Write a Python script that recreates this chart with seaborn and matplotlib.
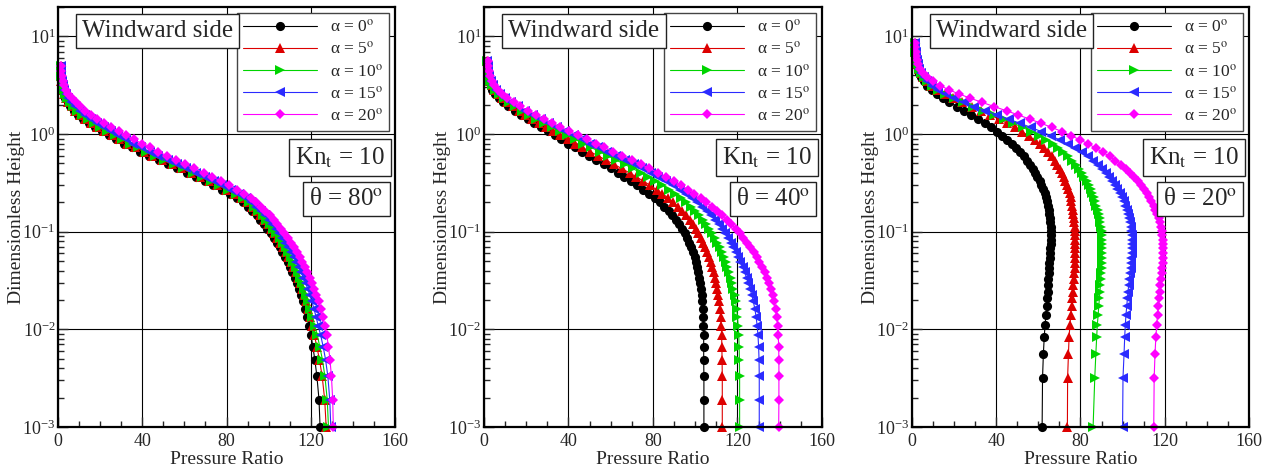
import matplotlib
matplotlib.use("Agg")
import matplotlib.pyplot as plt
import numpy as np
import pandas as pd
import seaborn as sns
from matplotlib.ticker import FixedLocator, MultipleLocator, LogLocator, NullFormatter

# ---------------------------------------------------------------- data
ALPHA_LABELS = ["α = 0$^{\\rm o}$", "α = 5$^{\\rm o}$", "α = 10$^{\\rm o}$",
                "α = 15$^{\\rm o}$", "α = 20$^{\\rm o}$"]
THETA_LABELS = ["θ = 80$^{\\rm o}$", "θ = 40$^{\\rm o}$", "θ = 20$^{\\rm o}$"]
KN_LABEL = "Kn$_{\\rm t}$ = 10"
SIDE_LABEL = "Windward side"

# dimensionless height of the sampling points (theta = 80 deg)
h_80 = [0.001, 0.0019, 0.0033, 0.0049, 0.0066, 0.0087, 0.0109, 0.0135, 0.0162, 0.0193,
        0.0224, 0.0258, 0.0296, 0.0337, 0.0383, 0.0433, 0.0488, 0.0549, 0.0616, 0.069,
        0.077, 0.086, 0.096, 0.107, 0.119, 0.132, 0.147, 0.163, 0.181, 0.20,
        0.22, 0.245, 0.27, 0.30, 0.33, 0.365, 0.40, 0.445, 0.49, 0.54,
        0.60, 0.66, 0.73, 0.80, 0.88, 0.97, 1.07, 1.18, 1.30, 1.43,
        1.58, 1.74, 1.92, 2.12, 2.34, 2.58, 2.85, 3.15, 3.5, 3.9, 4.4, 5.0]
p80_a0 = [124.4, 123.9, 122.9, 121.9, 121.0, 120.1, 119.2, 118.3, 117.4, 116.4,
          115.5, 114.5, 113.5, 112.4, 111.3, 110.2, 109.0, 107.8, 106.5, 105.2,
          103.8, 102.4, 100.9, 99.4, 97.8, 96.1, 94.3, 92.3, 90.1, 87.6,
          84.9, 81.4, 77.8, 73.6, 69.6, 65.3, 61.1, 56.4, 52.1, 47.7,
          43.1, 39.1, 35.0, 31.4, 27.7, 24.1, 20.7, 17.5, 14.6, 12.0,
          9.6, 7.6, 5.9, 4.5, 3.5, 2.7, 2.1, 1.7, 1.5, 1.3, 1.2, 1.2]
p80_a5 = [127.3, 126.6, 125.4, 124.1, 122.9, 121.7, 120.6, 119.6, 118.7, 117.8,
          116.9, 115.9, 114.9, 113.9, 112.8, 111.7, 110.6, 109.4, 108.2, 106.9,
          105.5, 104.1, 102.7, 101.2, 99.6, 97.9, 96.1, 94.1, 91.9, 89.5,
          86.8, 83.3, 79.7, 75.5, 71.5, 67.2, 63.0, 58.2, 53.9, 49.4,
          44.8, 40.7, 36.6, 32.9, 29.1, 25.5, 22.0, 18.7, 15.7, 12.9,
          10.4, 8.2, 6.4, 4.9, 3.8, 2.9, 2.3, 1.8, 1.6, 1.4, 1.3, 1.2]
p80_a10 = [128.4, 127.8, 126.7, 125.5, 124.3, 123.1, 121.8, 120.8, 119.8, 118.9,
           117.9, 117.0, 116.0, 114.9, 113.9, 112.8, 111.7, 110.5, 109.3, 108.0,
           106.6, 105.2, 103.7, 102.2, 100.6, 98.9, 97.1, 95.1, 92.9, 90.5,
           87.8, 84.3, 80.7, 76.5, 72.5, 68.2, 64.0, 59.3, 55.0, 50.5,
           45.9, 41.9, 37.8, 34.1, 30.4, 26.8, 23.3, 20.0, 16.9, 14.1,
           11.5, 9.2, 7.2, 5.5, 4.2, 3.2, 2.5, 2.0, 1.7, 1.5, 1.4, 1.3]
p80_a15 = [129.5, 129.0, 128.1, 127.0, 125.9, 124.7, 123.5, 122.5, 121.5, 120.5,
           119.6, 118.6, 117.6, 116.5, 115.4, 114.3, 113.1, 111.9, 110.6, 109.3,
           107.9, 106.5, 105.0, 103.4, 101.8, 100.1, 98.3, 96.3, 94.2, 91.8,
           89.1, 85.7, 82.1, 78.0, 74.0, 69.8, 65.6, 60.9, 56.6, 52.2,
           47.6, 43.6, 39.5, 35.8, 32.1, 28.5, 25.0, 21.6, 18.5, 15.5,
           12.8, 10.3, 8.1, 6.2, 4.7, 3.6, 2.8, 2.2, 1.8, 1.6, 1.4, 1.3]
p80_a20 = [130.7, 130.4, 129.8, 129.1, 128.4, 127.6, 126.6, 125.7, 124.7, 123.7,
           122.7, 121.7, 120.6, 119.5, 118.4, 117.2, 116.0, 114.7, 113.4, 112.0,
           110.5, 109.0, 107.4, 105.8, 104.1, 102.3, 100.4, 98.4, 96.3, 94.0,
           91.5, 88.3, 85.0, 81.1, 77.3, 73.2, 69.2, 64.6, 60.4, 56.1,
           51.6, 47.6, 43.5, 39.8, 36.0, 32.3, 28.7, 25.2, 21.9, 18.7,
           15.7, 13.0, 10.5, 8.3, 6.4, 4.9, 3.7, 2.8, 2.2, 1.8, 1.5, 1.4]

# theta = 40 deg
h_40 = [0.001, 0.0019, 0.0033, 0.0049, 0.0066, 0.0087, 0.0109, 0.0135, 0.0162, 0.0193,
        0.0224, 0.0258, 0.0296, 0.0337, 0.0383, 0.0433, 0.0488, 0.0549, 0.0616, 0.069,
        0.077, 0.086, 0.096, 0.107, 0.119, 0.132, 0.147, 0.163, 0.181, 0.20,
        0.22, 0.245, 0.27, 0.30, 0.33, 0.365, 0.40, 0.445, 0.49, 0.54,
        0.60, 0.66, 0.73, 0.80, 0.88, 0.97, 1.07, 1.18, 1.30, 1.43,
        1.58, 1.74, 1.92, 2.12, 2.34, 2.58, 2.85, 3.15, 3.5, 3.9, 4.4, 5.0, 5.6]
p40_a0 = [104.1, 104.1, 104.1, 104.0, 104.0, 104.0, 103.9, 103.8, 103.6, 103.4,
          103.1, 102.8, 102.4, 102.0, 101.5, 101.0, 100.4, 99.7, 98.9, 98.0,
          97.1, 96.1, 95.0, 93.8, 92.4, 90.9, 89.2, 87.4, 85.4, 83.2,
          80.9, 78.2, 75.5, 72.4, 69.5, 66.4, 63.4, 59.9, 56.6, 53.2,
          49.6, 46.3, 42.9, 39.8, 36.6, 33.4, 30.2, 27.0, 23.9, 20.8,
          17.6, 14.5, 11.6, 9.0, 6.9, 5.2, 4.0, 3.1, 2.5, 2.1, 1.8, 1.6, 1.5]
p40_a5 = [112.8, 112.8, 112.8, 112.7, 112.6, 112.5, 112.3, 112.0, 111.7, 111.3,
          110.9, 110.4, 109.9, 109.3, 108.7, 108.0, 107.3, 106.5, 105.6, 104.7,
          103.7, 102.6, 101.5, 100.2, 98.8, 97.3, 95.6, 93.8, 91.8, 89.6,
          87.3, 84.5, 81.7, 78.5, 75.4, 72.1, 68.9, 65.1, 61.5, 57.8,
          53.9, 50.3, 46.6, 43.2, 39.7, 36.2, 32.8, 29.4, 26.0, 22.7,
          19.4, 16.4, 13.5, 10.9, 8.5, 6.5, 4.9, 3.7, 2.8, 2.3, 1.9, 1.7, 1.6]
p40_a10 = [121.0, 121.0, 121.0, 120.9, 120.8, 120.6, 120.3, 120.0, 119.6, 119.1,
           118.6, 118.0, 117.4, 116.7, 116.0, 115.2, 114.4, 113.5, 112.5, 111.5,
           110.4, 109.3, 108.1, 106.7, 105.2, 103.6, 101.8, 99.9, 97.8, 95.6,
           93.3, 90.4, 87.6, 84.3, 81.1, 77.6, 74.3, 70.3, 66.6, 62.7,
           58.5, 54.7, 50.7, 47.1, 43.3, 39.5, 35.8, 32.1, 28.4, 24.8,
           21.3, 18.0, 14.8, 11.9, 9.3, 7.1, 5.3, 4.0, 3.0, 2.4, 2.0, 1.7, 1.6]
p40_a15 = [130.3, 130.3, 130.3, 130.2, 130.0, 129.7, 129.3, 128.8, 128.2, 127.5,
           126.8, 126.0, 125.2, 124.3, 123.4, 122.4, 121.4, 120.3, 119.2, 118.0,
           116.8, 115.5, 114.2, 112.7, 111.1, 109.4, 107.5, 105.5, 103.3, 101.0,
           98.6, 95.6, 92.7, 89.3, 86.0, 82.4, 79.0, 74.8, 70.9, 66.8,
           62.4, 58.4, 54.2, 50.4, 46.4, 42.4, 38.5, 34.6, 30.7, 26.9,
           23.2, 19.6, 16.1, 12.9, 10.1, 7.7, 5.7, 4.3, 3.2, 2.5, 2.0, 1.8, 1.6]
p40_a20 = [139.5, 139.6, 139.6, 139.6, 139.5, 139.3, 139.0, 138.6, 138.0, 137.3,
           136.6, 135.8, 134.9, 133.9, 132.8, 131.6, 130.3, 129.0, 127.6, 126.1,
           124.5, 122.8, 121.0, 119.1, 117.0, 114.9, 112.6, 110.3, 107.8, 105.3,
           102.7, 99.6, 96.6, 93.1, 89.8, 86.1, 82.6, 78.3, 74.3, 70.1,
           65.5, 61.3, 56.9, 52.9, 48.7, 44.4, 40.3, 36.2, 32.2, 28.3,
           24.5, 20.8, 17.2, 14.0, 11.0, 8.5, 6.4, 4.8, 3.6, 2.8, 2.2, 1.9, 1.7]

# theta = 20 deg
h_20 = [0.001, 0.0032, 0.0056, 0.0083, 0.0111, 0.014, 0.0174, 0.0208, 0.0244, 0.0284,
        0.0327, 0.0374, 0.0425, 0.048, 0.054, 0.0605, 0.0675, 0.075, 0.083, 0.092,
        0.102, 0.113, 0.125, 0.138, 0.152, 0.168, 0.185, 0.204, 0.225, 0.248,
        0.273, 0.30, 0.33, 0.363, 0.40, 0.44, 0.485, 0.535, 0.59, 0.65,
        0.715, 0.79, 0.87, 0.96, 1.06, 1.17, 1.29, 1.42, 1.57, 1.73,
        1.91, 2.11, 2.33, 2.57, 2.84, 3.14, 3.47, 3.83, 4.23, 4.67,
        5.16, 5.7, 6.3, 6.95, 7.7, 8.5]
p20_a0 = [61.8, 62.0, 62.4, 62.8, 63.2, 63.6, 63.9, 64.2, 64.4, 64.6,
          64.8, 65.0, 65.1, 65.3, 65.4, 65.5, 65.7, 65.8, 65.9, 66.0,
          66.0, 65.9, 65.7, 65.5, 65.2, 64.9, 64.5, 64.1, 63.6, 63.0,
          62.3, 61.5, 60.6, 59.6, 58.5, 57.3, 56.0, 54.6, 53.0, 51.3,
          49.4, 47.3, 45.1, 42.7, 40.2, 37.4, 34.5, 31.4, 28.2, 24.8,
          21.3, 17.8, 14.6, 11.8, 9.3, 7.3, 5.6, 4.3, 3.4, 2.7,
          2.2, 1.9, 1.6, 1.5, 1.4, 1.3]
p20_a5 = [73.8, 73.9, 74.3, 74.6, 75.0, 75.4, 75.8, 76.1, 76.4, 76.6,
          76.8, 77.0, 77.2, 77.3, 77.4, 77.5, 77.5, 77.5, 77.5, 77.5,
          77.4, 77.3, 77.1, 76.9, 76.6, 76.3, 76.0, 75.7, 75.3, 74.8,
          74.2, 73.6, 72.9, 72.1, 71.2, 70.2, 69.1, 67.8, 66.3, 64.6,
          62.7, 60.6, 58.2, 55.4, 52.3, 48.8, 45.2, 41.3, 37.2, 32.8,
          28.3, 23.8, 19.5, 15.5, 12.0, 9.2, 7.0, 5.3, 4.1, 3.2,
          2.6, 2.1, 1.8, 1.6, 1.5, 1.4]
p20_a10 = [86.0, 86.8, 87.3, 87.7, 88.0, 88.4, 88.7, 89.0, 89.2, 89.5,
           89.7, 89.8, 90.0, 90.1, 90.2, 90.3, 90.3, 90.3, 90.2, 90.1,
           90.0, 89.8, 89.5, 89.1, 88.7, 88.2, 87.6, 87.0, 86.3, 85.6,
           84.8, 83.9, 82.9, 81.8, 80.6, 79.2, 77.7, 76.0, 74.1, 71.9,
           69.5, 66.8, 63.8, 60.4, 56.7, 52.6, 48.2, 43.6, 38.8, 33.9,
           29.0, 24.3, 19.9, 15.9, 12.4, 9.5, 7.2, 5.5, 4.2, 3.3,
           2.6, 2.1, 1.8, 1.6, 1.5, 1.4]
p20_a15 = [100.0, 100.2, 100.7, 101.0, 101.3, 101.6, 102.0, 102.3, 102.6, 102.9,
           103.2, 103.5, 103.8, 104.0, 104.2, 104.3, 104.4, 104.4, 104.4, 104.3,
           104.1, 103.8, 103.5, 103.1, 102.6, 102.0, 101.3, 100.5, 99.6, 98.6,
           97.5, 96.3, 95.0, 93.5, 91.9, 90.1, 88.1, 85.9, 83.4, 80.6,
           77.5, 74.0, 70.2, 66.0, 61.4, 56.5, 51.3, 45.9, 40.4, 34.9,
           29.6, 24.6, 20.1, 16.0, 12.5, 9.6, 7.3, 5.6, 4.3, 3.4,
           2.7, 2.2, 1.9, 1.7, 1.6, 1.5]
p20_a20 = [114.8, 115.0, 115.4, 115.8, 116.2, 116.6, 117.0, 117.4, 117.7, 118.0,
           118.3, 118.6, 118.8, 119.0, 119.1, 119.2, 119.2, 119.2, 119.1, 118.9,
           118.6, 118.2, 117.7, 117.1, 116.4, 115.6, 114.7, 113.7, 112.6, 111.4,
           110.1, 108.7, 107.1, 105.4, 103.5, 101.4, 99.1, 96.6, 93.8, 90.7,
           87.4, 83.8, 79.9, 75.7, 71.2, 66.4, 61.3, 56.0, 50.5, 44.9,
           39.1, 33.3, 27.7, 22.4, 17.5, 13.3, 9.8, 7.1, 5.1, 3.7,
           2.8, 2.2, 1.9, 1.7, 1.6, 1.5]

PANELS = [
    (h_80, [p80_a0, p80_a5, p80_a10, p80_a15, p80_a20], THETA_LABELS[0]),
    (h_40, [p40_a0, p40_a5, p40_a10, p40_a15, p40_a20], THETA_LABELS[1]),
    (h_20, [p20_a0, p20_a5, p20_a10, p20_a15, p20_a20], THETA_LABELS[2]),
]
X_TICKS = [0, 40, 80, 120, 160]

# ---------------------------------------------------------------- style
COLORS = ["#000000", "#dd0000", "#00d400", "#2b2bff", "#ff00ff"]
MARKERS = ["o", "^", ">", "<", "D"]
MS = 6.6          # marker size (pt) for circles / triangles
MS_DIAMOND = 4.8  # 'D' is drawn larger than the others for the same size

sns.set_style("ticks")
plt.rcParams["font.family"] = ["Liberation Serif", "DejaVu Serif"]
plt.rcParams["mathtext.fontset"] = "stix"
plt.rcParams["axes.unicode_minus"] = False

fig = plt.figure(figsize=(12.76, 4.71), dpi=100)
AX_RECTS = [(0.0455, 0.0934, 0.2641, 0.8917),
            (0.3793, 0.0934, 0.2649, 0.8917),
            (0.7147, 0.0934, 0.2641, 0.8917)]

for rect, (heights, series, theta_lab) in zip(AX_RECTS, PANELS):
    ax = fig.add_axes(rect)
    frames = []
    for lab, pvals in zip(ALPHA_LABELS, series):
        frames.append(pd.DataFrame({"p": pvals, "h": heights, "case": lab}))
    df = pd.concat(frames, ignore_index=True)

    sns.lineplot(data=df, x="p", y="h", hue="case", style="case",
                 hue_order=ALPHA_LABELS, style_order=ALPHA_LABELS,
                 palette=COLORS, markers=MARKERS, dashes=False,
                 sort=False, estimator=None, linewidth=0.8,
                 markersize=MS, markeredgewidth=0, ax=ax, clip_on=False)
    for ln in ax.lines:
        if ln.get_marker() == "D":
            ln.set_markersize(MS_DIAMOND)

    ax.set_yscale("log")
    ax.set_xlim(0, 160)
    ax.set_ylim(1e-3, 20)
    ax.xaxis.set_major_locator(FixedLocator(X_TICKS))
    ax.xaxis.set_minor_locator(MultipleLocator(10))
    ax.yaxis.set_major_locator(LogLocator(base=10, numticks=10))
    ax.yaxis.set_minor_locator(LogLocator(base=10, subs=np.arange(2, 10), numticks=20))
    ax.yaxis.set_minor_formatter(NullFormatter())
    ax.tick_params(which="both", direction="in", labelsize=13, width=1.0,
                   top=False, right=False)
    ax.tick_params(which="major", length=7)
    ax.tick_params(axis="x", which="major", pad=4)
    ax.tick_params(axis="y", which="major", pad=2)
    ax.tick_params(which="minor", length=4)
    ax.grid(True, which="major", color="black", linewidth=0.8)
    ax.set_axisbelow(True)
    for sp in ax.spines.values():
        sp.set_linewidth(1.6)
        sp.set_color("black")

    ax.set_xlabel("Pressure Ratio", fontsize=14, labelpad=1)
    ax.set_ylabel("Dimensionless Height", fontsize=14)
    ax.yaxis.set_label_coords(-0.098, 0.5)

    leg = ax.get_legend()
    handles = leg.legend_handles
    labels = [t.get_text() for t in leg.get_texts()]
    leg.remove()
    for hd in handles:
        hd.set_markersize(MS_DIAMOND if hd.get_marker() == "D" else MS)
    new_leg = ax.legend(handles, labels, loc="upper right", bbox_to_anchor=(0.982, 0.986),
                        borderaxespad=0, fontsize=12.5, handlelength=4.25, handletextpad=0.75,
                        labelspacing=0.31, borderpad=0.35, frameon=True, fancybox=False,
                        framealpha=1, edgecolor="#444444")
    new_leg.get_frame().set_linewidth(1.0)
    new_leg.set_zorder(5)

    box = dict(boxstyle="square,pad=0.25", facecolor="white", edgecolor="#222222", linewidth=1.0)
    ax.text(0.295, 0.943, SIDE_LABEL, transform=ax.transAxes, fontsize=18,
            ha="center", va="center", bbox=box, zorder=6)
    ax.text(0.837, 0.642, KN_LABEL, transform=ax.transAxes, fontsize=18,
            ha="center", va="center", bbox=box, zorder=6)
    ax.text(0.855, 0.543, theta_lab, transform=ax.transAxes, fontsize=18,
            ha="center", va="center", bbox=box, zorder=6)

fig.savefig("out.png", dpi=100)
